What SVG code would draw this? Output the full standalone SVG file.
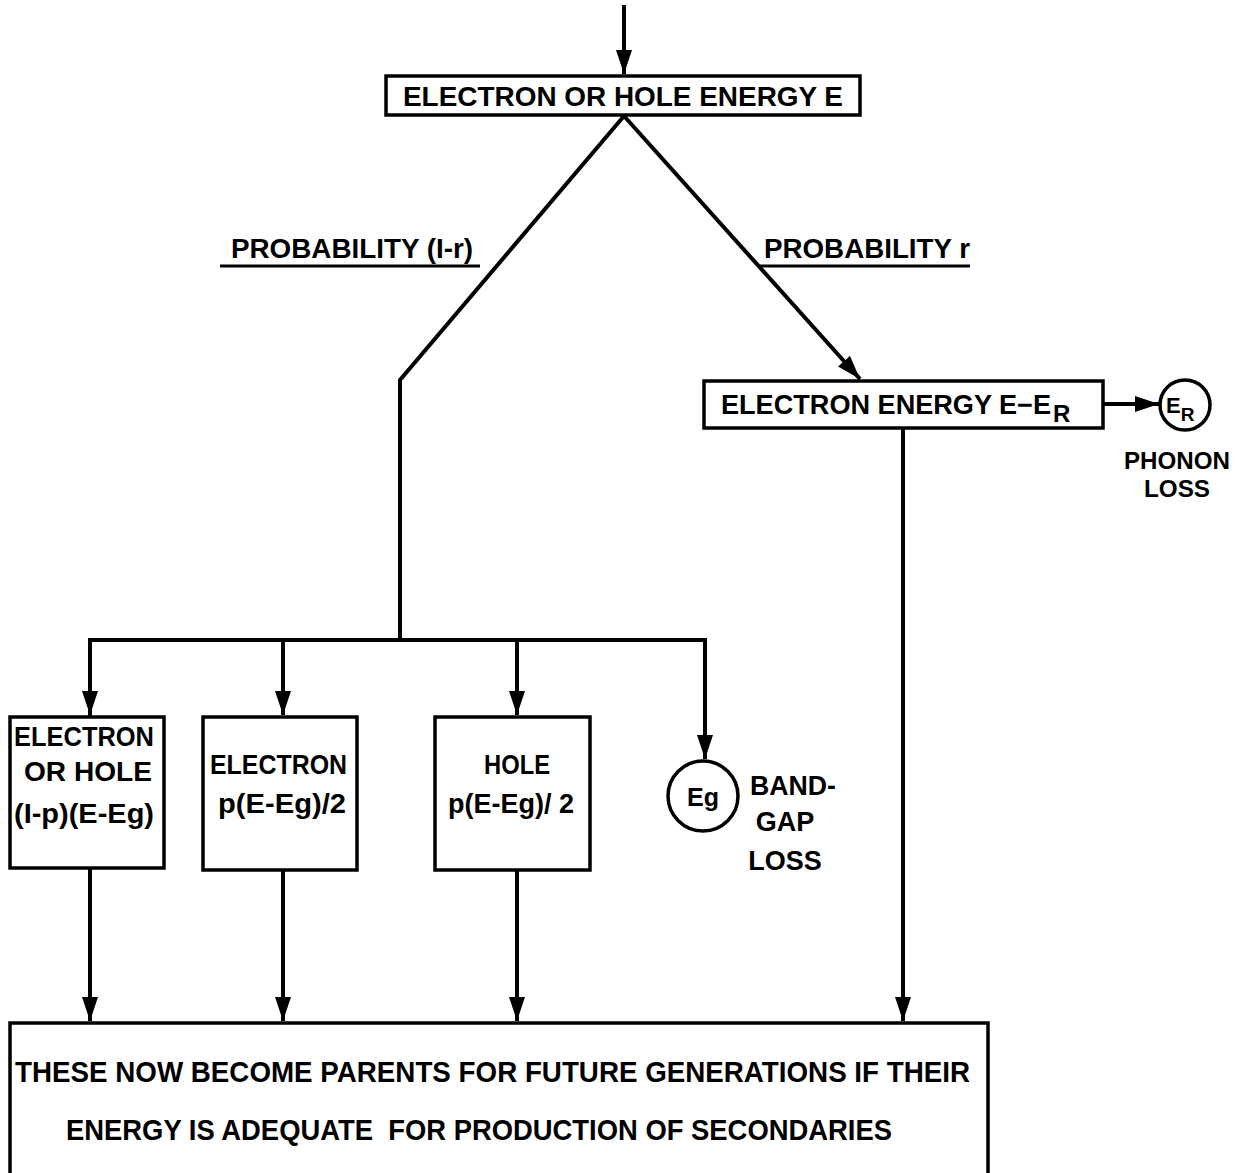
<svg xmlns="http://www.w3.org/2000/svg" width="1241" height="1173" viewBox="0 0 1241 1173">
<style>
.b{fill:#fff;stroke:#000;stroke-width:3.5}
.c{fill:none;stroke:#000;stroke-width:4;stroke-linejoin:miter}
.t{font-family:"Liberation Sans",Arial,sans-serif;font-weight:bold;fill:#000;font-size:27px;white-space:pre}
</style>
<defs>
<marker id="a" viewBox="0 0 24 16" refX="24" refY="8" markerWidth="24" markerHeight="16" orient="auto" markerUnits="userSpaceOnUse">
<path d="M0,0 L24,8 L0,16 Z" fill="#000"/>
</marker>
</defs>
<rect width="1241" height="1173" fill="#fff"/>
<g id="connectors">
<path class="c" d="M624,5 V74" marker-end="url(#a)"/>
<path class="c" d="M624,116 L400,380 V638"/>
<path class="c" d="M624,116 L860,379" marker-end="url(#a)"/>
<path class="c" d="M1104,404 H1159" marker-end="url(#a)"/>
<path class="c" d="M903,429 V1021" marker-end="url(#a)"/>
<path class="c" d="M90,716 V640 H705 V759" marker-end="url(#a)"/>
<path class="c" d="M90,640 V715" marker-end="url(#a)"/>
<path class="c" d="M283,640 V715" marker-end="url(#a)"/>
<path class="c" d="M517,640 V715" marker-end="url(#a)"/>
<path class="c" d="M90,869 V1021" marker-end="url(#a)"/>
<path class="c" d="M283,871 V1021" marker-end="url(#a)"/>
<path class="c" d="M517,871 V1021" marker-end="url(#a)"/>
<path class="c" d="M220,266 H480" style="stroke-width:3"/>
<path class="c" d="M760,266 H970" style="stroke-width:3"/>
<text class="t" x="231" y="258" textLength="242" lengthAdjust="spacingAndGlyphs">PROBABILITY (I-r)</text>
<text class="t" x="764" y="258" textLength="206" lengthAdjust="spacingAndGlyphs">PROBABILITY r</text>
</g>
<g id="n-top">
<rect class="b" x="386" y="76" width="474" height="39"/>
<text class="t" x="403" y="106" textLength="440" lengthAdjust="spacingAndGlyphs">ELECTRON OR HOLE ENERGY E</text>
</g>
<g id="n-eer">
<rect class="b" x="704" y="381" width="399" height="47"/>
<text class="t" x="721" y="414"><tspan textLength="330" lengthAdjust="spacingAndGlyphs">ELECTRON ENERGY E−E</tspan><tspan dx="2" dy="8" style="font-size:24px">R</tspan></text>
</g>
<g id="n-phonon">
<circle class="b" cx="1185" cy="405" r="25"/>
<text class="t" x="1166" y="413" style="font-size:22px">E<tspan dx="0" dy="8" style="font-size:19px">R</tspan></text>
<text class="t" x="1177" y="469" text-anchor="middle" style="font-size:24px" textLength="106" lengthAdjust="spacingAndGlyphs">PHONON</text>
<text class="t" x="1177" y="497" text-anchor="middle" style="font-size:24px" textLength="66" lengthAdjust="spacingAndGlyphs">LOSS</text>
</g>
<g id="n-b1">
<rect class="b" x="10" y="717" width="154" height="151"/>
<text class="t" x="14" y="746" textLength="140" lengthAdjust="spacingAndGlyphs">ELECTRON</text>
<text class="t" x="24" y="781" textLength="128" lengthAdjust="spacingAndGlyphs">OR HOLE</text>
<text class="t" x="14" y="823" textLength="140" lengthAdjust="spacingAndGlyphs">(I-p)(E-Eg)</text>
</g>
<g id="n-b2">
<rect class="b" x="203" y="717" width="154" height="153"/>
<text class="t" x="210" y="774" textLength="137" lengthAdjust="spacingAndGlyphs">ELECTRON</text>
<text class="t" x="218" y="813" textLength="128" lengthAdjust="spacingAndGlyphs">p(E-Eg)/2</text>
</g>
<g id="n-b3">
<rect class="b" x="435" y="717" width="155" height="153"/>
<text class="t" x="484" y="774" textLength="66" lengthAdjust="spacingAndGlyphs">HOLE</text>
<text class="t" x="448" y="813" textLength="126" lengthAdjust="spacingAndGlyphs">p(E-Eg)/ 2</text>
</g>
<g id="n-eg">
<circle class="b" cx="703" cy="796" r="35"/>
<text class="t" x="703" y="806" text-anchor="middle" style="font-size:25px">Eg</text>
<text class="t" x="750" y="795" textLength="86" lengthAdjust="spacingAndGlyphs">BAND-</text>
<text class="t" x="785" y="831" text-anchor="middle">GAP</text>
<text class="t" x="785" y="870" text-anchor="middle">LOSS</text>
</g>
<g id="n-bottom">
<rect class="b" x="10" y="1023" width="978" height="160"/>
<text class="t" x="15" y="1082" style="font-size:30px" textLength="955" lengthAdjust="spacingAndGlyphs">THESE NOW BECOME PARENTS FOR FUTURE GENERATIONS IF THEIR</text>
<text class="t" x="66" y="1140" style="font-size:30px" textLength="826" lengthAdjust="spacingAndGlyphs">ENERGY IS ADEQUATE  FOR PRODUCTION OF SECONDARIES</text>
</g>
</svg>
